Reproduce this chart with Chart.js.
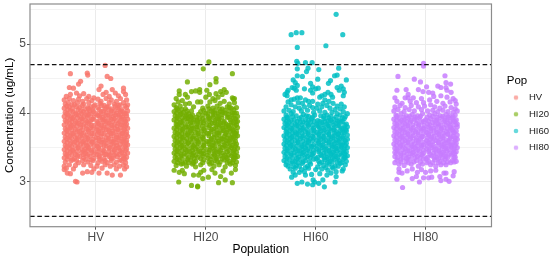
<!DOCTYPE html>
<html><head><meta charset="utf-8">
<script src="https://cdn.jsdelivr.net/npm/chart.js@4"></script>
<style>html,body{margin:0;padding:0;background:#fff}canvas{display:block}</style>
</head><body><canvas id="c" width="550" height="259"></canvas>
<script>
const categories=['HV','HI20','HI60','HI80'];
const yTicks=[2.5,3,3.5,4,4.5,5,5.5];
const limitLines=[4.7,2.5];
const colours=['#F8766D','#72AE00','#00BFC4','#C77CFF'];
// [horizontal jitter, concentration]
const hvPoints=[[.09,4.69],[-.25,4.57],[-.085,4.58],[-.08,4.55],[.11,4.53],[.145,4.5],[-.15,4.46],[-.17,4.42],[-.26,4.37],[-.22,4.36],[.05,4.39],[.27,4.36],[.16,4.34],[.03,4.34],
[-.29,4.24],[-.25,4.27],[-.19,4.29],[-.16,4.25],[-.12,4.28],[-.07,4.24],[-.02,4.22],[.07,4.27],[.1,4.3],[.13,4.24],[.19,4.29],[.22,4.25],[.27,4.31],[.29,4.27],
[-.31,4.19],[-.26,4.21],[-.22,4.18],[-.17,4.2],[-.13,4.17],[-.09,4.21],[-.04,4.18],[.02,4.2],[.05,4.17],[.1,4.21],[.15,4.19],[.2,4.17],[.24,4.21],[.3,4.19],
[-.3,4.13],[-.27,4.15],[-.21,4.12],[-.18,4.15],[-.12,4.13],[-.07,4.15],[-.01,4.12],[.04,4.14],[.08,4.11],[.13,4.15],[.18,4.13],[.22,4.11],[.27,4.15],[.31,4.12],
[-.31,4.07],[-.26,4.09],[-.23,4.06],[-.16,4.08],[-.11,4.06],[-.05,4.09],[-.03,4.05],[.02,4.08],[.09,4.06],[.12,4.09],[.16,4.06],[.21,4.08],[.25,4.05],[.3,4.08],
[-.3,4.01],[-.25,4.03],[-.2,4],[-.15,4.03],[-.09,4.01],[-.06,4.03],[0,3.99],[.05,4.02],[.1,4],[.15,4.03],[.2,4],[.24,4.02],[.28,3.99],[.31,4.03],
[-.31,3.95],[-.27,3.97],[-.22,3.94],[-.17,3.97],[-.12,3.95],[-.07,3.97],[-.02,3.94],[.03,3.96],[.07,3.94],[.12,3.97],[.17,3.95],[.22,3.97],[.26,3.94],[.3,3.96],
[-.3,3.89],[-.25,3.91],[-.2,3.88],[-.15,3.91],[-.1,3.89],[-.04,3.91],[.01,3.88],[.06,3.9],[.1,3.88],[.15,3.91],[.2,3.89],[.25,3.91],[.29,3.88],[.31,3.91],
[-.31,3.83],[-.26,3.85],[-.22,3.82],[-.17,3.85],[-.12,3.83],[-.07,3.85],[-.02,3.82],[.03,3.84],[.08,3.82],[.13,3.85],[.18,3.83],[.22,3.85],[.27,3.82],[.3,3.84],
[-.3,3.77],[-.25,3.79],[-.2,3.76],[-.15,3.79],[-.09,3.77],[-.05,3.79],[.01,3.76],[.05,3.78],[.1,3.76],[.15,3.79],[.19,3.77],[.24,3.79],[.28,3.76],[.31,3.78],
[-.31,3.71],[-.27,3.73],[-.22,3.7],[-.16,3.73],[-.12,3.71],[-.07,3.73],[-.02,3.7],[.03,3.72],[.08,3.7],[.13,3.73],[.17,3.71],[.22,3.73],[.26,3.7],[.3,3.72],
[-.3,3.65],[-.25,3.67],[-.2,3.64],[-.15,3.67],[-.1,3.65],[-.05,3.67],[0,3.64],[.05,3.66],[.1,3.64],[.15,3.67],[.2,3.65],[.24,3.67],[.28,3.64],[.31,3.66],
[-.31,3.59],[-.26,3.61],[-.21,3.58],[-.17,3.61],[-.12,3.59],[-.07,3.61],[-.03,3.58],[.03,3.6],[.08,3.58],[.12,3.61],[.17,3.59],[.22,3.61],[.27,3.58],[.3,3.6],
[-.3,3.53],[-.25,3.55],[-.2,3.52],[-.15,3.55],[-.09,3.53],[-.05,3.55],[.01,3.52],[.05,3.54],[.1,3.52],[.15,3.55],[.2,3.53],[.24,3.55],[.29,3.52],[.31,3.54],
[-.31,3.47],[-.26,3.49],[-.22,3.46],[-.17,3.49],[-.11,3.47],[-.07,3.49],[-.02,3.46],[.03,3.48],[.07,3.46],[.13,3.49],[.18,3.47],[.22,3.49],[.26,3.46],[.3,3.48],
[-.3,3.41],[-.25,3.43],[-.2,3.4],[-.14,3.43],[-.1,3.41],[-.04,3.43],[.01,3.4],[.06,3.42],[.1,3.4],[.16,3.43],[.2,3.41],[.25,3.43],[.28,3.4],[.31,3.42],
[-.31,3.35],[-.27,3.37],[-.21,3.34],[-.16,3.37],[-.12,3.35],[-.06,3.37],[-.02,3.34],[.03,3.36],[.08,3.34],[.13,3.37],[.17,3.35],[.21,3.37],[.27,3.34],[.3,3.36],
[-.3,3.29],[-.24,3.31],[-.17,3.28],[-.13,3.31],[-.08,3.29],[-.03,3.31],[.02,3.28],[.06,3.3],[.11,3.28],[.15,3.31],[.2,3.29],[.25,3.31],[.29,3.28],
[-.31,3.23],[-.26,3.25],[-.2,3.24],[-.12,3.25],[-.05,3.24],[.01,3.23],[.09,3.25],[.14,3.23],[.18,3.25],[.23,3.23],[.27,3.25],[.3,3.22],
[-.2,3.01],[-.185,3],[-.28,3.13],[-.25,3.12],[-.31,3.18],[-.13,3.13],[-.085,3.15],[-.04,3.14],[.03,3.13],[.11,3.13],[.16,3.1],[.24,3.1],[.28,3.19],[.06,3.2],[-.22,3.19],[-.29,3.2],[-.02,3.19],[.2,3.19]];
const hvDense=[[-.285,4.1],[-.235,4.12],[-.19,4.09],[-.135,4.11],[-.08,4.08],[-.02,4.1],[.055,4.11],[.105,4.09],[.19,4.1],[.235,4.12],[.285,4.1],
[-.275,4.05],[-.225,4.02],[-.175,4.05],[-.125,4.02],[-.07,4.06],[-.025,4.02],[.03,4.05],[.075,4.03],[.125,4.05],[.18,4.03],[.225,4.05],[.265,4.02],
[-.285,3.99],[-.24,3.96],[-.19,3.98],[-.14,3.99],[-.09,3.97],[-.045,3.99],[.015,3.97],[.05,3.99],[.095,3.97],[.145,3.99],[.19,3.97],[.245,3.98],[.295,3.99],
[-.28,3.93],[-.23,3.92],[-.18,3.93],[-.135,3.92],[-.08,3.94],[-.03,3.91],[.04,3.93],[.085,3.91],[.13,3.93],[.18,3.92],[.23,3.94],[.275,3.91],
[-.285,3.87],[-.235,3.88],[-.185,3.86],[-.135,3.88],[-.085,3.87],[-.055,3.88],[.02,3.86],[.075,3.88],[.12,3.86],[.165,3.88],[.235,3.87],[.28,3.86],
[-.275,3.8],[-.24,3.82],[-.19,3.81],[-.145,3.83],[-.095,3.81],[-.045,3.82],[.01,3.8],[.055,3.82],[.105,3.8],[.155,3.82],[.205,3.81],[.25,3.83],[.29,3.81],
[-.285,3.75],[-.235,3.76],[-.18,3.74],[-.13,3.76],[-.075,3.75],[-.03,3.76],[.025,3.74],[.07,3.76],[.125,3.75],[.17,3.74],[.215,3.76],[.265,3.75],
[-.28,3.69],[-.23,3.7],[-.185,3.68],[-.14,3.7],[-.09,3.68],[-.04,3.7],[.015,3.69],[.06,3.7],[.115,3.68],[.15,3.7],[.2,3.68],[.255,3.7],[.295,3.69],
[-.285,3.63],[-.24,3.64],[-.185,3.62],[-.135,3.64],[-.08,3.63],[-.025,3.62],[.025,3.63],[.07,3.61],[.125,3.63],[.175,3.62],[.225,3.64],[.27,3.62],
[-.28,3.57],[-.225,3.58],[-.18,3.56],[-.13,3.58],[-.095,3.57],[-.04,3.58],[.01,3.56],[.055,3.58],[.105,3.56],[.155,3.58],[.2,3.57],[.255,3.59],[.295,3.57],
[-.285,3.51],[-.24,3.52],[-.175,3.5],[-.125,3.52],[-.08,3.51],[-.02,3.52],[.025,3.5],[.08,3.52],[.135,3.5],[.175,3.52],[.225,3.5],[.27,3.52],
[-.28,3.45],[-.23,3.46],[-.185,3.44],[-.13,3.46],[-.085,3.45],[-.045,3.46],[.02,3.44],[.08,3.45],[.125,3.44],[.18,3.46],[.235,3.45],[.29,3.46],
[-.285,3.39],[-.235,3.4],[-.18,3.38],[-.12,3.4],[-.08,3.39],[-.02,3.4],[.035,3.38],[.085,3.4],[.135,3.39],[.18,3.39],[.23,3.4],[.265,3.38],
[-.28,3.33],[-.23,3.33],[-.19,3.31],[-.1,3.33],[-.05,3.32],[.04,3.33],[.09,3.31],[.15,3.34],[.235,3.32],[.285,3.33]];
const hi20Points=[[.03,4.74],[-.025,4.64],[.26,4.57],[.1,4.5],[.1,4.45],[-.18,4.45],[.04,4.41],[.01,4.33],[-.26,4.32],[-.14,4.31],[-.1,4.32],[-.06,4.34],[-.06,4.3],[.145,4.31],[.18,4.34],[.2,4.3],[.16,4.27],[.035,4.27],[0,4.23],[-.26,4.27],[-.2,4.27],[-.18,4.23],[-.29,4.21],[.28,4.21],[.26,4.22],[.27,4.2],[.12,4.23],[-.08,4.16],[-.05,4.16],[-.16,4.14],[-.31,4.12],[.1,4.28],[.07,4.21],
[-.27,4.16],[-.23,4.18],[-.2,4.13],[.04,4.16],[.09,4.18],[.14,4.14],[.18,4.17],[.23,4.13],[.28,4.15],[-.12,4.09],
[-.29,4.08],[-.25,4.1],[-.2,4.06],[-.14,4.03],[-.03,4.07],[.02,4.1],[.07,4.07],[.11,4.1],[.16,4.06],[.21,4.09],[.25,4.07],[.3,4.08],
[-.31,4.02],[-.27,4.04],[-.22,4.01],[-.17,3.99],[-.05,4.02],[0,4],[.05,4.03],[.09,4],[.14,4.02],[.19,4],[.23,4.03],[.28,4],
[-.3,3.96],[-.25,3.98],[-.2,3.95],[-.13,3.97],[-.09,3.94],[-.03,3.97],[.02,3.95],[.07,3.97],[.12,3.95],[.16,3.98],[.21,3.94],[.26,3.97],[.31,3.95],
[-.31,3.9],[-.27,3.92],[-.22,3.89],[-.17,3.92],[-.12,3.9],[-.06,3.92],[-.01,3.89],[.04,3.91],[.09,3.89],[.13,3.92],[.18,3.88],[.24,3.9],[.29,3.92],[.31,3.88],
[-.29,3.84],[-.25,3.86],[-.2,3.83],[-.15,3.86],[-.09,3.84],[-.05,3.86],[.01,3.83],[.06,3.85],[.11,3.83],[.14,3.86],[.2,3.84],[.22,3.82],[.27,3.86],[.3,3.83],
[-.31,3.78],[-.27,3.8],[-.22,3.77],[-.17,3.8],[-.12,3.78],[-.07,3.8],[-.02,3.77],[.03,3.79],[.08,3.77],[.13,3.8],[.17,3.78],[.23,3.79],[.26,3.76],[.31,3.79],
[-.3,3.72],[-.25,3.74],[-.2,3.71],[-.15,3.74],[-.1,3.72],[-.04,3.74],[.01,3.71],[.05,3.73],[.11,3.71],[.15,3.74],[.2,3.72],[.24,3.74],[.28,3.71],[.3,3.73],
[-.31,3.66],[-.26,3.68],[-.22,3.65],[-.17,3.68],[-.12,3.66],[-.07,3.68],[-.03,3.65],[.03,3.67],[.08,3.65],[.13,3.68],[.18,3.66],[.22,3.68],[.27,3.65],[.31,3.67],
[-.3,3.6],[-.25,3.62],[-.2,3.59],[-.15,3.62],[-.09,3.6],[-.05,3.62],[.01,3.59],[.05,3.61],[.1,3.59],[.15,3.62],[.2,3.6],[.24,3.62],[.29,3.59],
[-.31,3.54],[-.26,3.56],[-.22,3.53],[-.17,3.56],[-.11,3.54],[-.07,3.56],[-.02,3.53],[.03,3.55],[.07,3.53],[.13,3.56],[.18,3.54],[.22,3.56],[.26,3.53],[.3,3.55],
[-.3,3.48],[-.25,3.5],[-.2,3.47],[-.14,3.5],[-.1,3.48],[-.04,3.5],[.01,3.47],[.06,3.49],[.1,3.47],[.16,3.5],[.2,3.48],[.25,3.5],[.28,3.47],[.31,3.49],
[-.31,3.42],[-.27,3.44],[-.21,3.41],[-.16,3.44],[-.12,3.42],[-.06,3.44],[-.02,3.41],[.03,3.43],[.08,3.41],[.13,3.44],[.17,3.42],[.21,3.44],[.27,3.41],[.3,3.43],
[-.3,3.36],[-.24,3.38],[-.17,3.35],[-.13,3.38],[-.08,3.36],[-.03,3.38],[.02,3.35],[.06,3.37],[.11,3.35],[.15,3.38],[.2,3.36],[.25,3.38],[.29,3.35],[.31,3.37],
[-.31,3.3],[-.26,3.32],[-.2,3.29],[-.15,3.32],[-.1,3.3],[-.02,3.32],[.03,3.29],[.09,3.31],[.14,3.29],[.18,3.32],[.23,3.3],[.27,3.32],[.3,3.29],
[-.29,3.24],[-.24,3.26],[-.19,3.23],[-.13,3.26],[-.1,3.22],[-.05,3.25],[.04,3.26],[.08,3.23],[.13,3.25],[.19,3.22],[.24,3.26],[.29,3.24],
[-.265,3],[-.14,2.95],[-.08,2.93],[-.08,2.94],[-.03,3.05],[-.12,3.1],[-.07,3.1],[.025,3.07],[.125,2.99],[.26,2.99],[.19,3.03],[.145,3.08],[.09,3.13],[-.21,3.12],[-.31,3.17],[-.26,3.14],[-.23,3.17],[.29,3.18],[.25,3.13],[-.02,3.17],[.06,3.18],[-.05,3.14],[.17,3.16]];
const hi20Dense=[[-.28,4.06],[-.235,4.05],[-.185,4.03],[-.02,4.04],[.03,4.06],[.09,4.04],[.135,4.06],[.185,4.04],[.23,4.08],[.275,4.05],
[-.285,4],[-.24,3.99],[-.19,3.97],[-.15,3.95],[-.07,3.98],[.02,3.99],[.07,4.01],[.12,3.99],[.165,4.01],[.215,3.98],[.26,4],[.3,4],
[-.28,3.94],[-.23,3.93],[-.185,3.92],[-.14,3.93],[-.085,3.9],[-.03,3.92],[.03,3.93],[.075,3.94],[.11,3.92],[.155,3.93],[.225,3.94],[.27,3.93],
[-.285,3.88],[-.24,3.87],[-.175,3.88],[-.13,3.87],[-.08,3.87],[-.025,3.86],[.035,3.88],[.085,3.86],[.125,3.88],[.175,3.86],[.25,3.87],[.295,3.87],
[-.28,3.82],[-.235,3.82],[-.19,3.8],[-.14,3.82],[-.09,3.8],[-.03,3.81],[.04,3.82],[.1,3.81],[.15,3.82],[.195,3.8],[.245,3.82],[.285,3.81],
[-.285,3.76],[-.23,3.76],[-.175,3.76],[-.135,3.77],[-.08,3.75],[-.01,3.75],[.06,3.76],[.105,3.75],[.17,3.75],[.215,3.76],[.27,3.75],
[-.28,3.7],[-.235,3.7],[-.18,3.69],[-.14,3.71],[-.075,3.7],[-.02,3.69],[.03,3.7],[.085,3.69],[.13,3.71],[.19,3.7],[.26,3.69],[.295,3.7],
[-.285,3.64],[-.23,3.64],[-.185,3.63],[-.13,3.64],[-.09,3.63],[-.025,3.63],[.055,3.63],[.11,3.64],[.16,3.63],[.205,3.64],[.25,3.64],[.29,3.64],
[-.28,3.58],[-.24,3.58],[-.175,3.57],[-.135,3.58],[-.075,3.58],[-.02,3.57],[.03,3.58],[.075,3.57],[.125,3.59],[.175,3.58],[.225,3.59],[.27,3.58],
[-.285,3.52],[-.235,3.52],[-.185,3.51],[-.125,3.52],[-.085,3.51],[-.02,3.52],[.045,3.51],[.09,3.52],[.14,3.51],[.19,3.52],[.235,3.52],[.29,3.52],
[-.28,3.46],[-.23,3.46],[-.18,3.45],[-.13,3.46],[-.075,3.45],[-.025,3.45],[.04,3.46],[.085,3.45],[.145,3.46],[.23,3.46],[.27,3.45],
[-.285,3.4],[-.24,3.4],[-.19,3.39],[-.14,3.4],[-.095,3.39],[-.045,3.41],[.015,3.39],[.085,3.39],[.12,3.41],[.185,3.39],[.225,3.4],[.285,3.39],
[-.28,3.34],[-.23,3.34],[-.18,3.33],[-.115,3.34],[-.05,3.34],[.045,3.33],[.1,3.34],[.16,3.34],[.21,3.34],[.27,3.35],
[-.275,3.28],[-.225,3.27],[-.17,3.28],[-.12,3.28],[-.03,3.28],[.06,3.28],[.115,3.29],[.21,3.28],[.26,3.28]];
const hi60Points=[[.2,5.43],[-.24,5.135],[-.19,5.165],[-.135,5.165],[.265,5.135],[.1,4.975],[-.18,4.95],[-.185,4.75],[-.175,4.72],[-.1,4.73],[-.035,4.73],[-.18,4.64],[-.075,4.65],[-.09,4.6],[.225,4.65],[.03,4.63],[-.18,4.54],[-.13,4.53],[.21,4.55],[.185,4.54],[.02,4.49],[.3,4.48],[.125,4.43],[.145,4.47],[-.22,4.48],[-.2,4.44],[-.18,4.4],[-.23,4.37],[-.27,4.33],[-.21,4.36],[-.19,4.33],[-.11,4.35],[-.05,4.43],[-.03,4.38],[0,4.35],[.025,4.36],[-.05,4.33],[-.03,4.29],[.21,4.37],[.25,4.39],[.27,4.35],[.28,4.3],[.27,4.25],[.23,4.33],[-.3,4.27],[-.28,4.25],[-.28,4.3],[.12,4.3],[.09,4.27],[.06,4.25],[.04,4.23],[.15,4.27],[.165,4.23],[-.18,4.22],[-.15,4.22],[-.21,4.2],[-.24,4.19],[-.27,4.16],[-.1,4.19],[-.07,4.17],[-.03,4.17],[.09,4.19],[.13,4.17],[.17,4.14],[.07,4.14],[.02,4.13],[-.13,4.14],
[-.24,4.12],[-.17,4.15],[-.06,4.11],[.11,4.11],[.21,4.1],[.25,4.13],[.28,4.09],[-.29,4.09],[-.2,4.09],[-.16,4.07],[-.11,4.09],[-.03,4.08],[.01,4.07],[.06,4.09],[.14,4.07],[.19,4.05],[.24,4.06],
[-.31,4.03],[-.26,4.04],[-.22,4.02],[-.14,4.03],[-.08,4.04],[-.02,4.01],[.04,4.03],[.09,4.01],[.16,4.01],[.21,3.99],[.27,4.02],[.31,3.99],
[-.29,3.97],[-.24,3.99],[-.19,3.96],[-.12,3.98],[-.07,3.95],[-.01,3.97],[.05,3.96],[.11,3.97],[.15,3.95],[.24,3.97],[.29,3.95],
[-.31,3.91],[-.27,3.93],[-.21,3.9],[-.16,3.92],[-.1,3.9],[-.04,3.92],[.02,3.89],[.08,3.92],[.12,3.89],[.18,3.91],[.23,3.89],[.28,3.92],
[-.3,3.85],[-.26,3.87],[-.2,3.84],[-.15,3.87],[-.09,3.85],[-.05,3.87],[.01,3.84],[.06,3.86],[.11,3.84],[.16,3.87],[.2,3.85],[.25,3.87],[.3,3.84],
[-.31,3.79],[-.27,3.81],[-.22,3.78],[-.17,3.81],[-.12,3.79],[-.07,3.81],[-.02,3.78],[.03,3.8],[.08,3.78],[.13,3.81],[.18,3.79],[.22,3.81],[.27,3.78],[.31,3.8],
[-.29,3.73],[-.25,3.75],[-.2,3.72],[-.15,3.75],[-.1,3.73],[-.04,3.75],[.01,3.72],[.05,3.74],[.11,3.72],[.15,3.75],[.2,3.73],[.24,3.75],[.28,3.72],[.3,3.74],
[-.31,3.67],[-.26,3.69],[-.22,3.66],[-.17,3.69],[-.12,3.67],[-.07,3.69],[-.03,3.66],[.03,3.68],[.08,3.66],[.13,3.69],[.18,3.67],[.22,3.69],[.27,3.66],[.31,3.68],
[-.3,3.61],[-.25,3.63],[-.2,3.6],[-.15,3.63],[-.09,3.61],[-.05,3.63],[.01,3.6],[.05,3.62],[.1,3.6],[.15,3.63],[.2,3.61],[.24,3.63],[.29,3.6],[.31,3.62],
[-.31,3.55],[-.26,3.57],[-.22,3.54],[-.17,3.57],[-.11,3.55],[-.07,3.57],[-.02,3.54],[.03,3.56],[.07,3.54],[.13,3.57],[.18,3.55],[.22,3.57],[.26,3.54],[.3,3.56],
[-.3,3.49],[-.25,3.51],[-.2,3.48],[-.14,3.51],[-.1,3.49],[-.04,3.51],[.01,3.48],[.06,3.5],[.1,3.48],[.16,3.51],[.2,3.49],[.25,3.51],[.28,3.48],[.31,3.5],
[-.31,3.43],[-.27,3.45],[-.21,3.42],[-.16,3.45],[-.12,3.43],[-.06,3.45],[-.02,3.42],[.03,3.44],[.08,3.42],[.13,3.45],[.17,3.43],[.21,3.45],[.27,3.42],[.3,3.44],
[-.3,3.37],[-.24,3.39],[-.17,3.36],[-.13,3.39],[-.08,3.37],[-.03,3.39],[.02,3.36],[.06,3.38],[.11,3.36],[.15,3.39],[.2,3.37],[.25,3.39],[.29,3.36],[.31,3.38],
[-.31,3.31],[-.26,3.33],[-.2,3.3],[-.15,3.33],[-.1,3.31],[-.02,3.33],[.03,3.3],[.09,3.32],[.14,3.3],[.18,3.33],[.23,3.31],[.27,3.33],[.3,3.3],
[-.29,3.25],[-.24,3.27],[-.19,3.24],[-.13,3.27],[-.08,3.23],[-.05,3.26],[.04,3.27],[.08,3.24],[.13,3.26],[.19,3.23],[.24,3.27],[.29,3.25],
[-.25,3.19],[-.2,3.2],[-.14,3.18],[-.07,3.2],[0,3.18],[.06,3.19],[.12,3.17],[.17,3.2],[.27,3.19],
[-.18,2.98],[-.135,3],[-.08,2.97],[-.03,2.96],[-.01,3],[.03,2.98],[.085,2.93],[.19,3],[.07,3.03],[.2,3.08],[.26,3.16],[-.235,3.07],[-.2,3.1],[-.1,3.1],[-.11,3.15],[-.025,3.03],[.11,3.1],[.15,3.13],[.2,3.15],[-.16,3.14],[-.22,3.14],[.04,3.12],[-.04,3.11]];
const hi60Dense=[[-.28,3.94],[-.225,3.95],[-.14,3.94],[-.09,3.96],[-.03,3.94],[.08,3.95],[.13,3.93],[.2,3.94],[.26,3.93],
[-.285,3.88],[-.24,3.89],[-.18,3.88],[-.125,3.87],[-.07,3.89],[-.015,3.88],[.04,3.88],[.09,3.88],[.145,3.89],[.215,3.88],[.265,3.88],
[-.28,3.83],[-.235,3.83],[-.185,3.82],[-.135,3.83],[-.075,3.83],[-.03,3.82],[.02,3.82],[.07,3.83],[.12,3.82],[.175,3.83],[.23,3.82],[.285,3.82],
[-.285,3.77],[-.235,3.77],[-.175,3.76],[-.13,3.77],[-.085,3.76],[-.015,3.75],[.04,3.77],[.09,3.76],[.135,3.77],[.18,3.76],[.255,3.77],[.295,3.76],
[-.28,3.71],[-.225,3.71],[-.185,3.7],[-.135,3.71],[-.075,3.71],[-.02,3.7],[.03,3.7],[.075,3.71],[.13,3.7],[.185,3.71],[.225,3.7],[.26,3.71],
[-.285,3.65],[-.235,3.65],[-.18,3.64],[-.13,3.65],[-.08,3.65],[-.02,3.64],[.03,3.64],[.075,3.65],[.125,3.64],[.165,3.65],[.22,3.65],[.265,3.64],
[-.28,3.59],[-.235,3.59],[-.175,3.58],[-.125,3.59],[-.07,3.59],[-.03,3.6],[.03,3.58],[.08,3.59],[.13,3.58],[.175,3.59],[.225,3.59],[.27,3.58],
[-.285,3.53],[-.24,3.53],[-.185,3.52],[-.135,3.53],[-.085,3.53],[-.04,3.52],[.01,3.52],[.055,3.53],[.105,3.52],[.155,3.53],[.2,3.52],[.245,3.53],[.29,3.53],
[-.28,3.47],[-.225,3.47],[-.175,3.46],[-.125,3.47],[-.08,3.47],[-.02,3.46],[.035,3.46],[.085,3.47],[.135,3.46],[.185,3.47],[.23,3.47],[.27,3.46],
[-.285,3.41],[-.24,3.41],[-.185,3.4],[-.14,3.41],[-.09,3.41],[-.04,3.4],[.05,3.4],[.105,3.41],[.15,3.41],[.19,3.4],[.235,3.41],[.285,3.41],
[-.28,3.35],[-.225,3.35],[-.185,3.34],[-.105,3.35],[-.055,3.35],[.005,3.34],[.085,3.35],[.125,3.34],[.165,3.35],[.215,3.35],[.28,3.35],
[-.285,3.29],[-.225,3.29],[-.175,3.28],[-.125,3.29],[-.06,3.29],[.06,3.29],[.115,3.28],[.16,3.29],[.21,3.29],[.255,3.28],
[-.27,3.23],[-.215,3.22],[-.16,3.23],[-.1,3.21],[.02,3.22],[.1,3.21],[.16,3.22],[.22,3.23]];
const hi80Points=[[-.02,4.72],[-.02,4.68],[-.27,4.53],[-.11,4.49],[-.05,4.45],[.19,4.54],[.2,4.44],[.245,4.42],[.01,4.38],[.12,4.39],[.15,4.37],[.2,4.37],[.21,4.33],[.25,4.3],[-.28,4.33],[-.19,4.34],[-.07,4.34],[-.025,4.31],[.03,4.3],[-.17,4.27],[-.3,4.22],[-.2,4.22],[-.17,4.22],[-.12,4.22],[-.04,4.21],[.07,4.29],[.08,4.24],[.15,4.25],[.21,4.23],[.27,4.21],[.29,4.18],
[-.28,4.17],[-.23,4.14],[-.15,4.17],[-.09,4.15],[-.02,4.15],[.04,4.19],[.11,4.17],[.17,4.14],[.24,4.16],[.3,4.13],
[-.3,4.09],[-.25,4.11],[-.2,4.08],[-.14,4.11],[-.07,4.09],[-.01,4.1],[.05,4.12],[.09,4.09],[.14,4.07],[.19,4.1],[.25,4.08],[.29,4.06],
[-.31,4.03],[-.27,4.05],[-.21,4.02],[-.16,4.05],[-.11,4.03],[-.04,4.05],[.02,4.03],[.07,4.04],[.12,4.02],[.17,4.04],[.22,4.02],[.27,4.01],[.31,4.03],
[-.29,3.97],[-.24,3.99],[-.19,3.96],[-.13,3.98],[-.08,3.96],[-.03,3.99],[.04,3.97],[.09,3.99],[.14,3.96],[.2,3.98],[.24,3.96],[.29,3.97],
[-.31,3.91],[-.26,3.93],[-.21,3.9],[-.17,3.93],[-.11,3.91],[-.06,3.93],[0,3.9],[.05,3.92],[.11,3.9],[.16,3.93],[.21,3.91],[.26,3.93],[.3,3.9],
[-.3,3.85],[-.25,3.87],[-.2,3.84],[-.15,3.87],[-.09,3.85],[-.04,3.87],[.02,3.84],[.07,3.86],[.12,3.84],[.18,3.87],[.22,3.85],[.27,3.87],[.31,3.84],
[-.31,3.79],[-.27,3.81],[-.22,3.78],[-.17,3.81],[-.12,3.79],[-.07,3.81],[-.02,3.78],[.03,3.8],[.08,3.78],[.13,3.81],[.18,3.79],[.24,3.8],[.27,3.78],[.31,3.8],
[-.3,3.73],[-.25,3.75],[-.2,3.72],[-.15,3.75],[-.1,3.73],[-.04,3.75],[.01,3.72],[.05,3.74],[.11,3.72],[.15,3.75],[.2,3.73],[.24,3.75],[.28,3.72],[.3,3.74],
[-.31,3.67],[-.26,3.69],[-.22,3.66],[-.17,3.69],[-.12,3.67],[-.07,3.69],[-.03,3.66],[.03,3.68],[.08,3.66],[.13,3.69],[.18,3.67],[.22,3.69],[.27,3.66],[.31,3.68],
[-.3,3.61],[-.25,3.63],[-.2,3.6],[-.15,3.63],[-.09,3.61],[-.05,3.63],[.01,3.6],[.05,3.62],[.1,3.6],[.15,3.63],[.2,3.61],[.24,3.63],[.29,3.6],[.31,3.62],
[-.31,3.55],[-.26,3.57],[-.22,3.54],[-.17,3.57],[-.11,3.55],[-.07,3.57],[-.02,3.54],[.03,3.56],[.07,3.54],[.13,3.57],[.18,3.55],[.22,3.57],[.26,3.54],[.3,3.56],
[-.3,3.49],[-.25,3.51],[-.2,3.48],[-.14,3.51],[-.1,3.49],[-.04,3.51],[.01,3.48],[.06,3.5],[.1,3.48],[.16,3.51],[.2,3.49],[.25,3.51],[.28,3.48],[.31,3.5],
[-.3,3.43],[-.27,3.45],[-.21,3.42],[-.16,3.45],[-.12,3.43],[-.06,3.45],[-.02,3.42],[.03,3.44],[.08,3.42],[.13,3.45],[.17,3.43],[.21,3.45],[.27,3.42],[.3,3.44],
[-.3,3.37],[-.24,3.39],[-.17,3.36],[-.13,3.39],[-.08,3.37],[-.03,3.39],[.02,3.36],[.06,3.38],[.11,3.36],[.15,3.39],[.2,3.37],[.25,3.39],[.29,3.36],
[-.28,3.32],[-.24,3.33],[-.19,3.3],[-.15,3.33],[-.09,3.31],[-.02,3.33],[.03,3.3],[.09,3.32],[.14,3.3],[.19,3.33],[.26,3.31],[.3,3.3],
[-.3,3.28],[-.26,3.26],[-.21,3.24],[-.14,3.26],[-.07,3.23],[-.03,3.26],[.05,3.25],[.1,3.23],[.15,3.25],[.2,3.25],[.245,3.28],[.28,3.29],
[-.225,2.92],[-.28,3.04],[-.13,3.05],[-.06,3],[-.02,3.06],[.03,3.06],[.06,3.07],[.14,3.08],[.15,3.02],[.2,3.04],[.23,3.01],[.27,3.09],[.2,3.13],[.18,3.13],[.28,3.15],[-.09,3.08],[-.08,3.14],[0,3.14],[-.26,3.14],[-.23,3.13],[-.18,3.16],[-.13,3.19],[.1,3.17],[-.04,3.18],[.05,3.16],[-.26,3.19]];
const hi80Dense=[[-.28,3.95],[-.215,3.94],[-.155,3.95],[-.105,3.94],[-.05,3.95],[.015,3.94],[.07,3.95],[.115,3.94],[.17,3.95],[.22,3.94],[.27,3.94],
[-.285,3.89],[-.235,3.89],[-.185,3.88],[-.14,3.89],[-.085,3.89],[-.02,3.88],[.03,3.88],[.09,3.89],[.135,3.88],[.19,3.89],[.24,3.88],[.285,3.88],
[-.28,3.83],[-.225,3.83],[-.175,3.82],[-.125,3.83],[-.065,3.83],[-.015,3.82],[.045,3.82],[.095,3.83],[.15,3.82],[.2,3.83],[.245,3.82],[.295,3.83],
[-.285,3.77],[-.24,3.77],[-.195,3.76],[-.14,3.77],[-.09,3.76],[-.045,3.77],[.005,3.76],[.055,3.77],[.105,3.76],[.155,3.77],[.215,3.77],[.26,3.76],
[-.28,3.71],[-.23,3.71],[-.175,3.7],[-.125,3.71],[-.075,3.71],[-.02,3.7],[.03,3.7],[.08,3.71],[.13,3.7],[.175,3.71],[.22,3.7],[.27,3.71],
[-.285,3.65],[-.235,3.65],[-.185,3.64],[-.14,3.65],[-.09,3.64],[-.04,3.65],[.015,3.64],[.06,3.65],[.115,3.64],[.165,3.65],[.245,3.65],[.29,3.64],
[-.28,3.59],[-.225,3.59],[-.175,3.58],[-.125,3.59],[-.07,3.59],[-.02,3.58],[.03,3.58],[.075,3.59],[.125,3.58],[.175,3.59],[.225,3.59],[.27,3.58],
[-.285,3.53],[-.24,3.53],[-.185,3.52],[-.135,3.53],[-.085,3.52],[-.04,3.53],[.015,3.52],[.055,3.53],[.11,3.52],[.155,3.53],[.2,3.52],[.245,3.53],[.29,3.53],
[-.28,3.47],[-.225,3.47],[-.175,3.46],[-.12,3.47],[-.075,3.47],[-.02,3.46],[.035,3.46],[.085,3.47],[.135,3.46],[.185,3.47],[.23,3.47],[.27,3.46],
[-.285,3.41],[-.24,3.41],[-.185,3.4],[-.14,3.41],[-.09,3.41],[-.04,3.4],[.045,3.4],[.105,3.41],[.15,3.41],[.19,3.4],[.235,3.41],[.285,3.41],
[-.275,3.35],[-.22,3.35],[-.185,3.34],[-.105,3.35],[-.055,3.35],[.005,3.34],[.085,3.35],[.125,3.34],[.165,3.35],[.215,3.35],[.28,3.35],
[-.24,3.29],[-.17,3.28],[-.115,3.29],[-.05,3.29],[.015,3.28],[.07,3.28],[.125,3.28],[.175,3.28],[.215,3.29]];
const groups=[hvPoints.concat(hvDense),hi20Points.concat(hi20Dense),hi60Points.concat(hi60Dense),hi80Points.concat(hi80Dense)];
const jitterShrink=.93;

function rgba(hex,a){const n=parseInt(hex.slice(1),16);return `rgba(${n>>16},${(n>>8)&255},${n&255},${a})`;}
function dot(hex){const k=document.createElement('canvas');k.width=k.height=6;const g=k.getContext('2d');g.fillStyle=rgba(hex,.6);g.beginPath();g.arc(3,3,2.3,0,Math.PI*2);g.fill();return k;}
const datasets=categories.map((name,i)=>({type:'scatter',label:name,order:1,
  data:groups[i].map(p=>({x:i+1+p[0]*jitterShrink,y:p[1]})),
  backgroundColor:rgba(colours[i],.84),borderWidth:0,pointRadius:2.6,pointHoverRadius:2.6}));
limitLines.forEach(v=>datasets.push({type:'line',label:'limit '+v,order:0,
  data:[{x:.4,y:v},{x:4.6,y:v}],borderColor:'#111',borderWidth:1.25,borderDash:[4.6,2.7],pointRadius:0,fill:false}));
const frame={id:'frame',
  afterLayout(c){const l=c.legend;l.left=500.5;l.right=550;l.width=33;l.top=74.8;l.bottom=165;},
  afterDatasetsDraw(c){const a=c.chartArea,g=c.ctx;g.save();g.strokeStyle='#8c8c8c';g.lineWidth=1.2;g.strokeRect(a.left,a.top,a.right-a.left,a.bottom-a.top);g.restore();}};
new Chart(document.getElementById('c'),{
  data:{datasets},plugins:[frame],
  options:{responsive:false,animation:false,
    layout:{padding:{top:4,right:0,left:0,bottom:0}},
    plugins:{tooltip:{enabled:false},
      legend:{position:'right',align:'start',
        title:{display:true,text:'Pop',color:'#000',position:'center',font:{family:'Liberation Sans',size:11.5},padding:{top:0,bottom:-3}},
        labels:{usePointStyle:true,pointStyleWidth:16.5,boxHeight:7,padding:7.2,color:'#1a1a1a',font:{family:'Liberation Sans',size:9.5},
          generateLabels:()=>categories.map((t,i)=>({text:t,pointStyle:dot(colours[i]),fillStyle:colours[i],strokeStyle:colours[i],lineWidth:0,hidden:false,datasetIndex:i,fontColor:'#1a1a1a'}))}}},
    scales:{
      x:{type:'linear',min:.4,max:4.6,
        afterBuildTicks:s=>{s.ticks=categories.map((_,i)=>({value:i+1}));},
        afterFit:s=>{s.height=32.3;s.paddingLeft=0;s.paddingRight=0;},
        grid:{color:'#ebebeb',lineWidth:1,tickColor:'#555',tickLength:3,drawTicks:true},border:{display:false},
        ticks:{padding:1,maxRotation:0,autoSkip:false,color:'#4d4d4d',font:{family:'Liberation Sans',size:12},callback:v=>categories[v-1]},
        title:{display:true,text:'Population',color:'#000',font:{family:'Liberation Sans',size:12},padding:{top:0,bottom:2}}},
      y:{type:'linear',min:2.352,max:5.58,
        afterBuildTicks:s=>{s.ticks=yTicks.map(v=>({value:v}));},
        afterFit:s=>{s.width=30;s.paddingTop=0;s.paddingBottom=0;},
        grid:{color:c=>Number.isInteger(c.tick.value)?'#ebebeb':'#f3f3f3',lineWidth:1,tickColor:c=>Number.isInteger(c.tick.value)?'#555':'rgba(0,0,0,0)',tickLength:3},border:{display:false},
        ticks:{padding:1,autoSkip:false,color:'#4d4d4d',font:{family:'Liberation Sans',size:12},callback:v=>Number.isInteger(v)?String(v):''},
        title:{display:true,text:'Concentration (ug/mL)',color:'#000',font:{family:'Liberation Sans',size:11.6},padding:{top:3,bottom:0}}}
    }}
});
</script></body></html>
